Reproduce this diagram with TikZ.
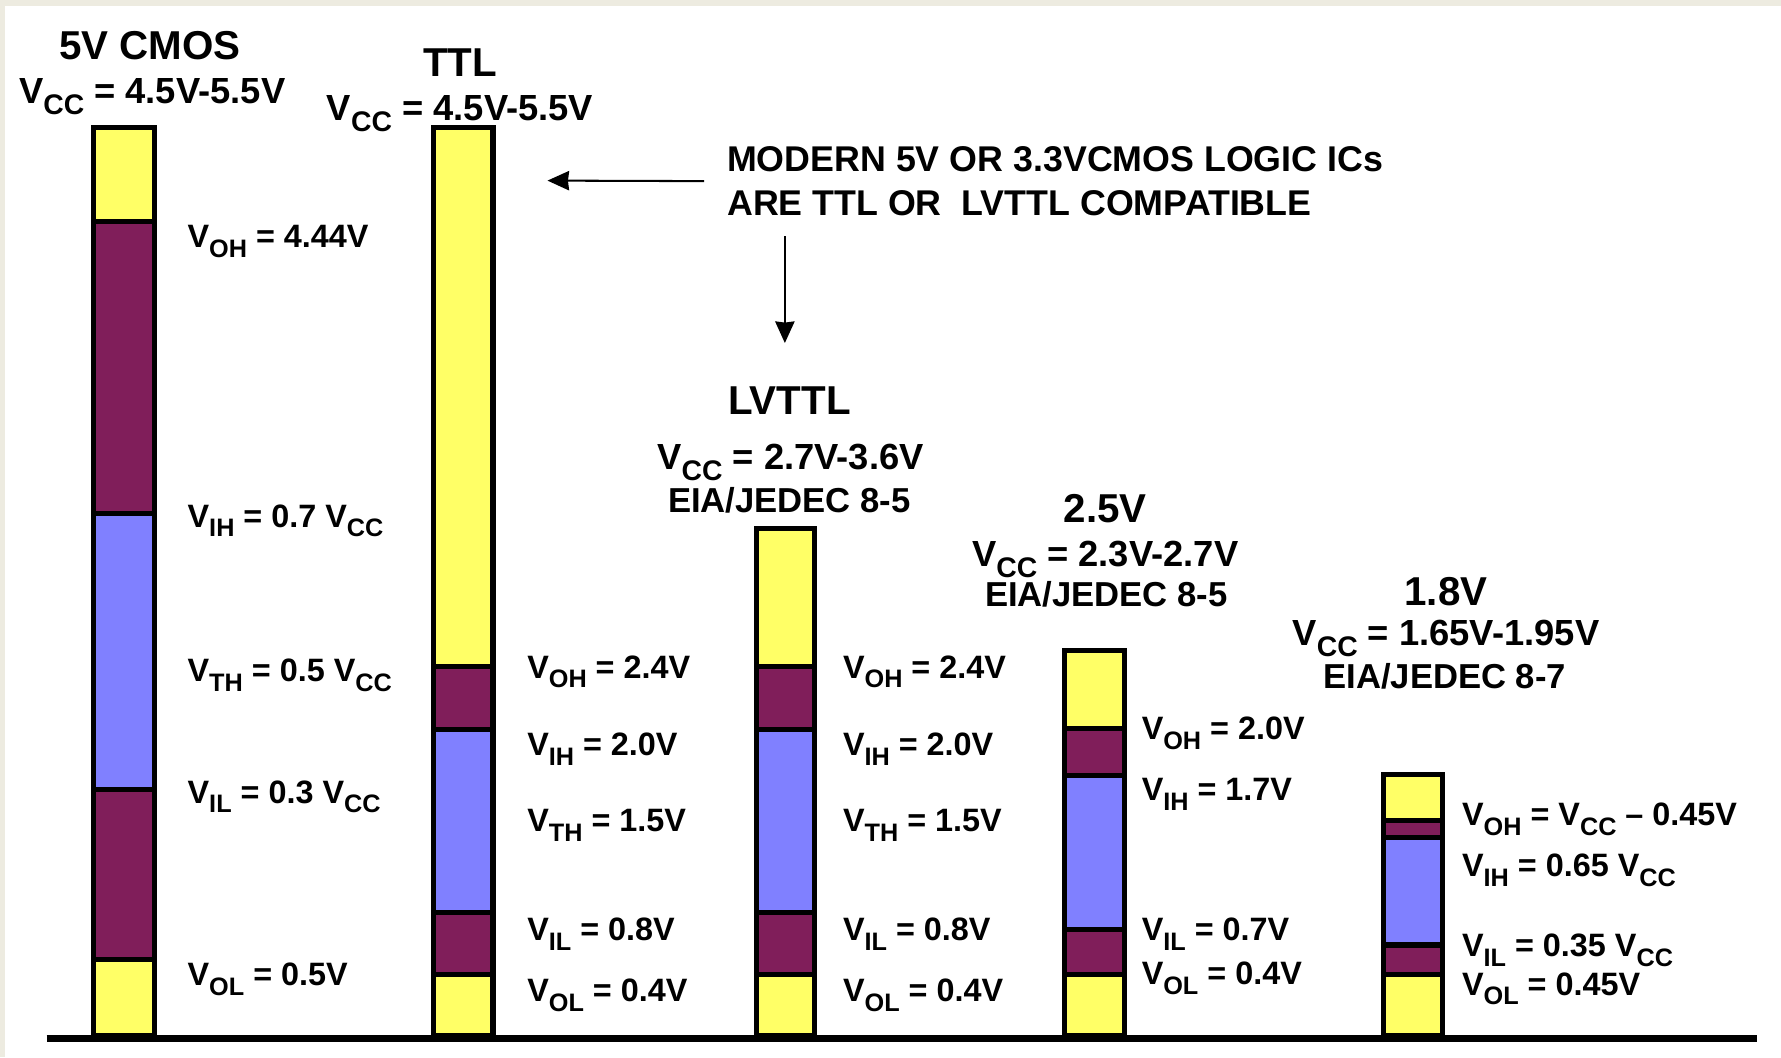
\documentclass[tikz,border=0pt]{standalone}
\usepackage{fontspec}
\setmainfont{Liberation Sans}
\usetikzlibrary{arrows.meta, calc, positioning}
\definecolor{lvyellow}{RGB}{255,255,102}
\definecolor{lvpurple}{RGB}{128,30,90}
\definecolor{lvblue}{RGB}{128,128,255}
\definecolor{paper}{RGB}{237,235,224}
\newcommand{\lsub}[1]{\raisebox{-0.3em}{\scalebox{0.78}{#1}}}
\tikzset{
	hiband/.style={fill=lvyellow, draw=black, line width=4.5pt},
	midband/.style={fill=lvpurple, draw=black, line width=4.5pt},
	undefband/.style={fill=lvblue, draw=black, line width=4.5pt},
	family/.style={font=\fontsize{35.5}{40}\selectfont\bfseries, inner sep=0pt, anchor=base},
	supply/.style={font=\fontsize{32}{38}\selectfont\bfseries, inner sep=0pt, anchor=base},
	jedec/.style={font=\fontsize{30.5}{36}\selectfont\bfseries, inner sep=0pt, anchor=base},
	level/.style={font=\fontsize{28.5}{34}\selectfont\bfseries, inner sep=0pt, anchor=base west},
	remark/.style={font=\fontsize{31.5}{38}\selectfont\bfseries, inner sep=0pt, anchor=base west},
	pointer/.style={->, >={Stealth[length=19pt, width=17pt, inset=1pt]}, line width=1.8pt}
}

\begin{document}
\begin{tikzpicture}[x=1pt,y=-1pt]
		\useasboundingbox (0,0) rectangle (1568,931);
		\fill[paper] (0,0) rectangle (1568,931);
		\fill[white] (4,5) rectangle (1568,931);

		% 5V CMOS
		\draw[hiband] (82,112) rectangle (136,195);
		\draw[midband] (82,195) rectangle (136,452);
		\draw[undefband] (82,452) rectangle (136,695);
		\draw[midband] (82,695) rectangle (136,845);
		\draw[hiband] (82,845) rectangle (136,912);

		% TTL
		\draw[hiband] (382,112) rectangle (434,587);
		\draw[midband] (382,587) rectangle (434,642);
		\draw[undefband] (382,642) rectangle (434,803);
		\draw[midband] (382,803) rectangle (434,858);
		\draw[hiband] (382,858) rectangle (434,912);

		% LVTTL
		\draw[hiband] (666,465) rectangle (717,587);
		\draw[midband] (666,587) rectangle (717,642);
		\draw[undefband] (666,642) rectangle (717,803);
		\draw[midband] (666,803) rectangle (717,858);
		\draw[hiband] (666,858) rectangle (717,912);

		% 2.5V
		\draw[hiband] (937,573) rectangle (990,641);
		\draw[midband] (937,641) rectangle (990,683);
		\draw[undefband] (937,683) rectangle (990,818);
		\draw[midband] (937,818) rectangle (990,858);
		\draw[hiband] (937,858) rectangle (990,912);

		% 1.8V
		\draw[hiband] (1218,682) rectangle (1270,722);
		\draw[midband] (1218,722) rectangle (1270,737);
		\draw[undefband] (1218,737) rectangle (1270,832);
		\draw[midband] (1218,832) rectangle (1270,858);
		\draw[hiband] (1218,858) rectangle (1270,912);

		% ground
		\draw[line width=6pt] (41,914) -- (1547,914);

		\node(cmos) [family] at (132,52.7) {5V CMOS};
		\node(cmosvcc) [supply] at (134,91.5) {V\lsub{CC} = 4.5V-5.5V};
		\node(ttl) [family] at (405,67.7) {TTL};
		\node(ttlvcc) [supply] at (405,106.5) {V\lsub{CC} = 4.5V-5.5V};
		\node(lvttl) [family] at (695,364.7) {LVTTL};
		\node(lvttlvcc) [supply] at (696,413.5) {V\lsub{CC} = 2.7V-3.6V};
		\node(lvttljedec) [jedec] at (695,451) {EIA/JEDEC 8-5};
		\node(lvtwofive) [family] at (973,459.7) {2.5V};
		\node(lvtwofivevcc) [supply] at (973,498.5) {V\lsub{CC} = 2.3V-2.7V};
		\node(lvtwofivejedec) [jedec] at (974,534) {EIA/JEDEC 8-5};
		\node(lvoneeight) [family] at (1273,532.7) {1.8V};
		\node(lvoneeightvcc) [supply] at (1273,568.5) {V\lsub{CC} = 1.65V-1.95V};
		\node(lvoneeightjedec) [jedec] at (1272,606) {EIA/JEDEC 8-7};

		\node(cmosvoh) [level] at (165,218) {V\lsub{OH} = 4.44V};
		\node(cmosvih) [level] at (165,464) {V\lsub{IH} = 0.7 V\lsub{CC}};
		\node(cmosvth) [level] at (165,600) {V\lsub{TH} = 0.5 V\lsub{CC}};
		\node(cmosvil) [level] at (165,707) {V\lsub{IL} = 0.3 V\lsub{CC}};
		\node(cmosvol) [level] at (165,868) {V\lsub{OL} = 0.5V};

		\node(ttlvoh) [level] at (464,597) {V\lsub{OH} = 2.4V};
		\node(ttlvih) [level] at (464,665) {V\lsub{IH} = 2.0V};
		\node(ttlvth) [level] at (464,732) {V\lsub{TH} = 1.5V};
		\node(ttlvil) [level] at (464,828) {V\lsub{IL} = 0.8V};
		\node(ttlvol) [level] at (464,882) {V\lsub{OL} = 0.4V};

		\node(lvttlvoh) [level] at (742,597) {V\lsub{OH} = 2.4V};
		\node(lvttlvih) [level] at (742,665) {V\lsub{IH} = 2.0V};
		\node(lvttlvth) [level] at (742,732) {V\lsub{TH} = 1.5V};
		\node(lvttlvil) [level] at (742,828) {V\lsub{IL} = 0.8V};
		\node(lvttlvol) [level] at (742,882) {V\lsub{OL} = 0.4V};

		\node(twofivevoh) [level] at (1005,651) {V\lsub{OH} = 2.0V};
		\node(twofivevih) [level] at (1005,705) {V\lsub{IH} = 1.7V};
		\node(twofivevil) [level] at (1005,828) {V\lsub{IL} = 0.7V};
		\node(twofivevol) [level] at (1005,867) {V\lsub{OL} = 0.4V};

		\node(oneeightvoh) [level] at (1287,727) {V\lsub{OH} = V\lsub{CC} -- 0.45V};
		\node(oneeightvih) [level] at (1287,772) {V\lsub{IH} = 0.65 V\lsub{CC}};
		\node(oneeightvil) [level] at (1287,842) {V\lsub{IL} = 0.35 V\lsub{CC}};
		\node(oneeightvol) [level] at (1287,876) {V\lsub{OL} = 0.45V};

		\node(note1) [remark] at (640,151.3) {MODERN 5V OR 3.3VCMOS LOGIC ICs};
		\node(note2) [remark] at (640,189.3) {ARE TTL OR\ \ LVTTL COMPATIBLE};

		\coordinate (notemid) at ($(note1.west)!0.5!(note2.west)$);
		\coordinate (ttltip) at (482,159);
		\coordinate (lvtip) at (691,302);
		\path (note2.south -| lvtip) ++(0,18) coordinate (lvtail);

		\draw[pointer] ([xshift=-20pt]notemid) -- (ttltip);
		\draw[pointer] (lvtail) -- (lvtip);
\end{tikzpicture}
\end{document}
